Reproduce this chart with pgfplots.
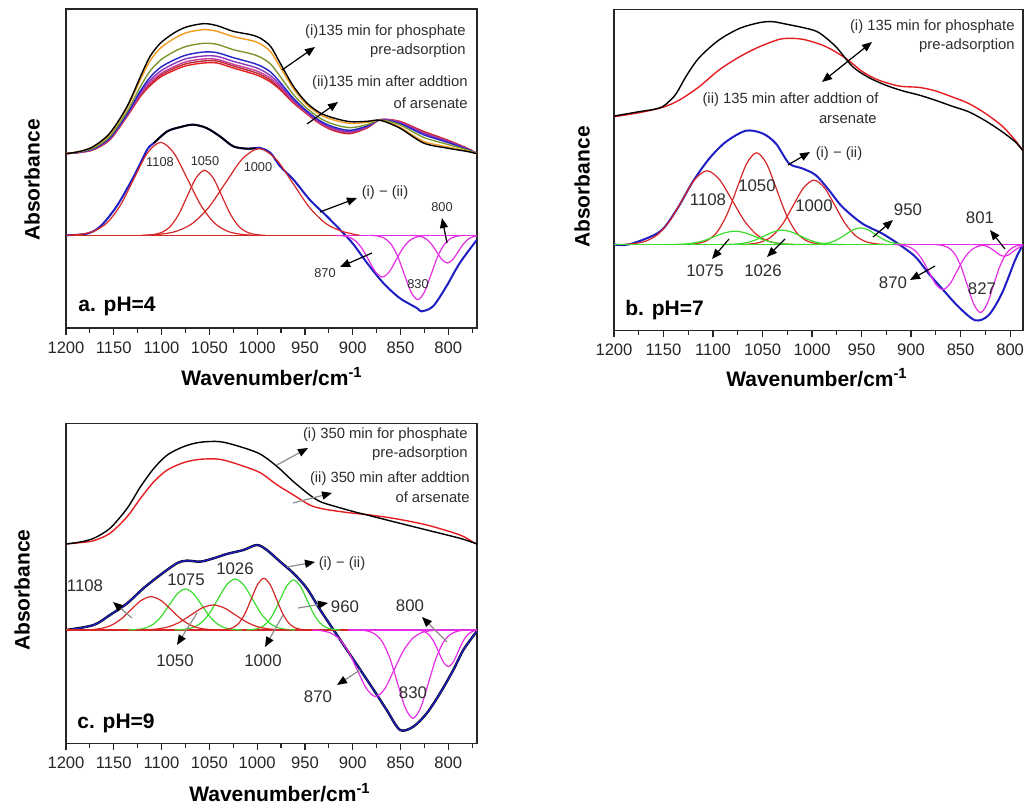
\documentclass[border=0pt]{standalone}
\usepackage{fontspec}
\setmainfont{Liberation Sans}
\usepackage{pgfplots}
\pgfplotsset{compat=1.18}
\usepackage{pgfplotstable}
\usetikzlibrary{arrows.meta}

\definecolor{cRed}{RGB}{230,30,35}
\definecolor{cBrown}{RGB}{185,45,50}
\definecolor{cMag}{RGB}{200,60,150}
\definecolor{cPurp}{RGB}{140,55,185}
\definecolor{cBlue}{RGB}{35,35,200}
\definecolor{cOlive}{RGB}{125,150,45}
\definecolor{cOrange}{RGB}{245,155,30}
\definecolor{gRed}{RGB}{215,38,38}
\definecolor{gMag}{RGB}{230,45,230}
\definecolor{gGreen}{RGB}{60,220,45}
\definecolor{dBlue}{RGB}{30,30,195}
\definecolor{txt}{RGB}{45,45,45}

\newcommand{\lbl}{\fontsize{10.5}{12}\selectfont\bfseries}
\newcommand{\ann}{\fontsize{7.4}{8}\selectfont}
\newcommand{\pkA}{\fontsize{6.4}{7}\selectfont}
\newcommand{\pkB}{\fontsize{8.4}{9}\selectfont}

\pgfplotsset{panel/.style={scale only axis, x dir=reverse,
  xtick={800,850,...,1200}, minor xtick={775,825,...,1175},
  xtick pos=left, ytick=\empty, tick align=outside,
  major tick length=3.5pt, minor tick length=2.5pt,
  every tick/.style={black!85, line width=0.6pt},
  axis line style={black!85, line width=0.7pt},
  tick label style={font=\fontsize{8.3}{9}\selectfont, text=black!85},
  /pgf/number format/assume math mode=true,
  /pgf/number format/1000 sep={},
  clip=true}}

\tikzset{arr/.style={-{Triangle[length=5pt,width=4pt]}, line width=0.6pt, black},
         garr/.style={-{Triangle[length=5pt,width=4pt,color=black]}, line width=0.6pt, black!45}}

\pgfplotstableread{
wn black orange olive blue purple magenta brown red
1200 523 523 523 523 523 523 523 523
1185 530 530 529 528 528 527 527 527
1171 545 544 540 538 537 536 536 535
1154 585 582 575 571 569 567 566 565
1136 665 661 650 643 640 638 637 635
1122 755 746 725 712 706 701 698 695
1112 815 802 771 752 743 736 731 727
1101 855 840 804 782 771 763 758 753
1087 885 868 829 804 793 784 779 773
1074 903 886 845 819 808 799 793 787
1056 913 895 854 828 816 807 801 795
1042 907 890 851 826 815 806 801 795
1025 890 874 835 811 800 791 786 780
1007 880 863 823 797 786 777 771 765
997 870 853 813 787 776 767 761 755
986 845 829 792 768 757 749 743 738
976 795 783 755 737 729 723 719 715
962 725 718 700 689 684 680 678 675
948 675 670 659 651 648 645 644 642
934 645 640 629 621 618 615 614 612
920 630 624 611 603 599 596 594 592
903 619 614 601 593 589 587 585 583
885 620 617 610 606 604 602 601 600
871 623 623 624 624 625 625 625 625
851 600 603 610 614 616 618 619 620
826 555 560 572 580 584 586 588 590
802 540 544 552 558 560 562 564 565
781 530 531 535 537 538 539 540 540
770 523 523 523 523 523 523 523 523
}\topA

\pgfplotstableread{
wn black
1200 385
1175 398
1160 405
1151 413
1144 430
1137 453
1127 505
1114 560
1094 613
1073 648
1053 665
1040 668
1027 661
1006 648
993 635
976 593
959 533
943 501
926 478
909 461
892 448
876 433
859 415
842 398
825 371
808 338
795 308
787 281
}\topBblack

\pgfplotstableread{
wn red
1200 383
1175 395
1151 411
1134 433
1114 473
1094 523
1073 563
1053 593
1033 615
1020 618
1006 613
986 593
966 558
949 518
933 493
912 475
892 471
876 461
859 443
842 423
825 393
808 355
795 313
787 281
}\topBred

\pgfplotstableread{
wn black red
1200 258 258
1185 264 262
1171 275 268
1154 305 290
1136 365 340
1122 430 395
1108 485 445
1094 525 480
1077 550 502
1060 563 512
1039 565 512
1018 550 495
997 528 472
979 490 435
962 445 405
945 405 375
934 385 365
920 372 358
899 355 350
885 345 346
857.5 325 335
822.6 300 315
787.8 275 285
773.9 262 263
770 258 258
}\topC

\begin{document}
\begin{tikzpicture}
\path[use as bounding box] (0,0) rectangle (512.5pt,-404pt);

%================ panel a
\begin{axis}[panel, at={(33pt,-164pt)}, anchor=south west,
  width=205.5pt, height=159.5pt, xmin=770, xmax=1200, ymin=-278, ymax=679]
\addplot[smooth, cRed, line width=0.7pt] table[x=wn, y expr=\thisrow{red}-278] {\topA};
\addplot[smooth, cBrown, line width=0.7pt] table[x=wn, y expr=\thisrow{brown}-278] {\topA};
\addplot[smooth, cMag, line width=0.7pt] table[x=wn, y expr=\thisrow{magenta}-278] {\topA};
\addplot[smooth, cPurp, line width=0.7pt] table[x=wn, y expr=\thisrow{purple}-278] {\topA};
\addplot[smooth, cBlue, line width=0.7pt] table[x=wn, y expr=\thisrow{blue}-278] {\topA};
\addplot[smooth, cOlive, line width=0.7pt] table[x=wn, y expr=\thisrow{olive}-278] {\topA};
\addplot[smooth, cOrange, line width=0.7pt] table[x=wn, y expr=\thisrow{orange}-278] {\topA};
\addplot[smooth, black, line width=0.7pt] table[x=wn, y expr=\thisrow{black}-278] {\topA};
% difference (i)-(ii)
\addplot[smooth, dBlue, line width=1pt] coordinates {(1200,0) (1178,5) (1164,27) (1147,87) (1129,177) (1115,257) (1108,277) (1094,312) (1080,325) (1067,332) (1053,322) (1039,297) (1025,267) (1011,260) (997,262) (986,247) (976,207) (962,167) (945,107) (927,57) (910,7) (899,-28) (885,-83) (868,-143) (851,-188) (833,-218) (828,-228) (816,-213) (802,-153) (788,-83) (770,-13)};
\addplot[smooth, black, line width=0.9pt] coordinates {(1108,277) (1094,312) (1080,325) (1067,332) (1053,322) (1039,297) (1025,267) (1011,260) (1002,261)};
% baselines
\addplot[gRed, line width=0.6pt] coordinates {(1200,0) (908,0)};
\addplot[gMag, line width=0.6pt] coordinates {(908,0) (770,0)};
% red components
\addplot[smooth, gRed, line width=0.6pt] coordinates {(1003,0) (1017,3.1) (1031,12.3) (1045,37.7) (1059,90.7) (1073,169.4) (1087,246.1) (1101,279) (1115,246.1) (1129,169.4) (1143,90.7) (1157,37.7) (1171,12.3) (1185,3.1) (1199,0)};
\addplot[smooth, gRed, line width=0.6pt] coordinates {(992,0) (1001,2.1) (1010,8.6) (1019,26.3) (1028,63.4) (1037,118.4) (1046,172) (1055,195) (1064,172) (1073,118.4) (1082,63.4) (1091,26.3) (1100,8.6) (1109,2.1) (1118,0)};
\addplot[smooth, gRed, line width=0.6pt] coordinates {(893,0) (910.5,11.4) (928,35.1) (945.5,84.5) (963,157.8) (980.5,229.3) (998,260) (1015.5,229.3) (1033,157.8) (1050.5,84.5) (1068,35.1) (1085.5,11.4) (1103,2.9) (1120.5,0)};
% magenta components
\addplot[smooth, gMag, line width=0.6pt] coordinates {(820,0) (827,-1.4) (834,-5.5) (841,-16.9) (848,-40.6) (855,-75.9) (862,-110.3) (869,-125) (876,-110.3) (883,-75.9) (890,-40.6) (897,-16.9) (904,-5.5) (911,-1.4) (918,0)};
\addplot[smooth, gMag, line width=0.6pt] coordinates {(783,0) (790,-2.1) (797,-8.5) (804,-26.1) (811,-62.7) (818,-117.2) (825,-170.2) (832,-193) (839,-170.2) (846,-117.2) (853,-62.7) (860,-26.1) (867,-8.5) (874,-2.1) (881,0)};
\addplot[smooth, gMag, line width=0.6pt] coordinates {(762.5,0) (768,-0.9) (773.5,-3.7) (779,-11.2) (784.5,-27) (790,-50.4) (795.5,-73.2) (801,-83) (806.5,-73.2) (812,-50.4) (817.5,-27) (823,-11.2) (828.5,-3.7) (834,-0.9) (839.5,0)};
\end{axis}

%================ panel b
\begin{axis}[panel, at={(307pt,-165.15pt)}, anchor=south west,
  width=204.5pt, height=160.5pt, xmin=787, xmax=1200, ymin=-257, ymax=705]
\addplot[smooth, cRed, line width=0.7pt] table[x=wn, y=red] {\topBred};
\addplot[smooth, black, line width=0.7pt] table[x=wn, y=black] {\topBblack};
\addplot[smooth, dBlue, line width=1pt] coordinates {(1200,0) (1184,1) (1154,38) (1137,103) (1120.5,188) (1103.7,258) (1086.9,308) (1066.8,341) (1050,333) (1036.6,303) (1023.2,243) (1009.7,228) (996.3,208) (982.9,163) (969.5,113) (949.3,63) (929.2,33) (912.4,1) (895.6,-37) (882.2,-87) (868.8,-132) (852,-187) (835.2,-227) (821.8,-212) (808.4,-147) (795,-47) (788.3,-7) (787,0)};
\addplot[gRed, line width=0.6pt] coordinates {(1200,0) (910,0)};
\addplot[smooth, gRed, line width=0.6pt] coordinates {(1018.5,0) (1031,2.4) (1043.5,9.7) (1056,29.8) (1068.5,71.8) (1081,134.1) (1093.5,194.9) (1106,221) (1118.5,194.9) (1131,134.1) (1143.5,71.8) (1156,29.8) (1168.5,9.7) (1181,2.4) (1193.5,0)};
\addplot[smooth, gRed, line width=0.6pt] coordinates {(986,0) (996,3) (1006,12.1) (1016,37.1) (1026,89.4) (1036,166.9) (1046,242.6) (1056,275) (1066,242.6) (1076,166.9) (1086,89.4) (1096,37.1) (1106,12.1) (1116,3) (1126,0)};
\addplot[smooth, gRed, line width=0.6pt] coordinates {(924.5,0) (935,2.1) (945.5,8.5) (956,26.1) (966.5,62.7) (977,117.2) (987.5,170.2) (998,193) (1008.5,170.2) (1019,117.2) (1029.5,62.7) (1040,26.1) (1050.5,8.5) (1061,2.1) (1071.5,0)};
\addplot[gGreen, line width=0.8pt] coordinates {(1200,0) (910,0)};
\addplot[smooth, gGreen, line width=0.6pt] coordinates {(1008,0) (1018,0.4) (1028,1.8) (1038,5.4) (1048,13) (1058,24.3) (1068,35.3) (1078,40) (1088,35.3) (1098,24.3) (1108,13) (1118,5.4) (1128,1.8) (1138,0.4) (1148,0)};
\addplot[smooth, gGreen, line width=0.6pt] coordinates {(967,0) (976,0.5) (985,1.9) (994,5.8) (1003,14) (1012,26.1) (1021,37.9) (1030,43) (1039,37.9) (1048,26.1) (1057,14) (1066,5.8) (1075,1.9) (1084,0.5) (1093,0)};
\addplot[smooth, gGreen, line width=0.6pt] coordinates {(898.5,0) (906,0.6) (913.5,2.2) (921,6.8) (928.5,16.3) (936,30.4) (943.5,44.1) (951,50) (958.5,44.1) (966,30.4) (973.5,16.3) (981,6.8) (988.5,2.2) (996,0.6) (1003.5,0)};
\addplot[gMag, line width=0.6pt] coordinates {(910,0) (787,0)};
\addplot[smooth, gMag, line width=0.6pt] coordinates {(819,0) (826,-1.5) (833,-5.9) (840,-18.2) (847,-43.9) (854,-81.9) (861,-119.1) (868,-135) (875,-119.1) (882,-81.9) (889,-43.9) (896,-18.2) (903,-5.9) (910,-1.5) (917,0)};
\addplot[smooth, gMag, line width=0.6pt] coordinates {(784.5,0) (791,-2.2) (797.5,-9) (804,-27.5) (810.5,-66.3) (817,-123.8) (823.5,-179.9) (830,-204) (836.5,-179.9) (843,-123.8) (849.5,-66.3) (856,-27.5) (862.5,-9) (869,-2.2) (875.5,0)};
\addplot[smooth, gMag, line width=0.6pt] coordinates {(774.5,0) (779,-0.4) (783.5,-1.5) (788,-4.7) (792.5,-11.4) (797,-21.2) (801.5,-30.9) (806,-35) (810.5,-30.9) (815,-21.2) (819.5,-11.4) (824,-4.7) (828.5,-1.5) (833,-0.4) (837.5,0)};
\end{axis}

%================ panel c
\begin{axis}[panel, at={(33pt,-371.65pt)}, anchor=south west,
  width=205.5pt, height=160pt, xmin=770, xmax=1200, ymin=-340, ymax=620]
\addplot[smooth, cRed, line width=0.7pt] table[x=wn, y=red] {\topC};
\addplot[smooth, black, line width=0.7pt] table[x=wn, y=black] {\topC};
\addplot[smooth, black, line width=1.2pt] coordinates {(1200,0) (1199,0) (1171,15) (1154,45) (1136,80) (1119,125) (1101.4,165) (1084,200) (1073.5,208) (1059.6,205) (1045.6,215) (1031.7,228) (1014.3,240) (1000.3,255) (989.9,240) (976,205) (962,170) (948,125) (934,60) (920,0) (906,-60) (892,-120) (878,-180) (864.5,-240) (850.5,-300) (836.6,-290) (822.6,-250) (808.7,-190) (794.8,-120) (784.3,-60) (770.4,-5)};
\addplot[smooth, dBlue, line width=0.7pt] coordinates {(1200,0) (1199,0) (1171,15) (1154,45) (1136,80) (1119,125) (1101.4,165) (1084,200) (1073.5,208) (1059.6,205) (1045.6,215) (1031.7,228) (1014.3,240) (1000.3,255) (989.9,240) (976,205) (962,170) (948,125) (934,60) (920,0) (906,-60) (892,-120) (878,-180) (864.5,-240) (850.5,-300) (836.6,-290) (822.6,-250) (808.7,-190) (794.8,-120) (784.3,-60) (770.4,-5)};
\addplot[gRed, line width=0.6pt] coordinates {(1200,0) (905,0)};
\addplot[gMag, line width=0.6pt] coordinates {(905,0) (770,0)};
\addplot[smooth, gGreen, line width=0.6pt] coordinates {(1015.5,0) (1024,1.4) (1032.5,5.4) (1041,16.6) (1049.5,40) (1058,74.7) (1066.5,108.5) (1075,123) (1083.5,108.5) (1092,74.7) (1100.5,40) (1109,16.6) (1117.5,5.4) (1126,1.4) (1134.5,0)};
\addplot[smooth, gGreen, line width=0.6pt] coordinates {(960,0) (969,1.7) (978,6.7) (987,20.7) (996,49.7) (1005,92.9) (1014,134.9) (1023,153) (1032,134.9) (1041,92.9) (1050,49.7) (1059,20.7) (1068,6.7) (1077,1.7) (1086,0)};
\addplot[smooth, gGreen, line width=0.6pt] coordinates {(913,0) (920,1.7) (927,6.6) (934,20.3) (941,48.8) (948,91.1) (955,132.3) (962,150) (969,132.3) (976,91.1) (983,48.8) (990,20.3) (997,6.6) (1004,1.7) (1011,0)};
\addplot[smooth, gRed, line width=0.6pt] coordinates {(1037.5,0) (1048,1.1) (1058.5,4.4) (1069,13.5) (1079.5,32.5) (1090,60.7) (1100.5,88.2) (1111,100) (1121.5,88.2) (1132,60.7) (1142.5,32.5) (1153,13.5) (1163.5,4.4) (1174,1.1) (1184.5,0)};
\addplot[smooth, gRed, line width=0.6pt] coordinates {(965.5,0) (977,0.8) (988.5,3.3) (1000,10.1) (1011.5,24.4) (1023,45.5) (1034.5,66.2) (1046,75) (1057.5,66.2) (1069,45.5) (1080.5,24.4) (1092,10.1) (1103.5,3.3) (1115,0.8) (1126.5,0)};
\addplot[smooth, gRed, line width=0.6pt] coordinates {(947.5,0) (954,1.7) (960.5,6.8) (967,20.9) (973.5,50.4) (980,94.1) (986.5,136.7) (993,155) (999.5,136.7) (1006,94.1) (1012.5,50.4) (1019,20.9) (1025.5,6.8) (1032,1.7) (1038.5,0)};
\addplot[smooth, gMag, line width=0.6pt] coordinates {(809.5,0) (819,-2.2) (828.5,-8.8) (838,-27) (847.5,-65) (857,-121.4) (866.5,-176.4) (876,-200) (885.5,-176.4) (895,-121.4) (904.5,-65) (914,-27) (923.5,-8.8) (933,-2.2) (942.5,0)};
\addplot[smooth, gMag, line width=0.6pt] coordinates {(781,0) (789,-2.9) (797,-11.7) (805,-35.8) (813,-86.1) (821,-160.9) (829,-233.7) (837,-265) (845,-233.7) (853,-160.9) (861,-86.1) (869,-35.8) (877,-11.7) (885,-2.9) (893,0)};
\addplot[smooth, gMag, line width=0.6pt] coordinates {(765,0) (770,-1.2) (775,-4.8) (780,-14.9) (785,-35.8) (790,-66.8) (795,-97) (800,-110) (805,-97) (810,-66.8) (815,-35.8) (820,-14.9) (825,-4.8) (830,-1.2) (835,0)};
\end{axis}

%================ annotations (pixel coordinates, y downwards)
\begin{scope}[x=0.5pt, y=-0.5pt, every node/.style={inner sep=0pt, text=txt}]
% panel a
\node[font=\lbl, rotate=90, text=black] at (32,180) {Absorbance};
\node[font=\lbl, text=black] at (272,377) {Wavenumber/cm\textsuperscript{-1}};
\node[font=\lbl, text=black, anchor=west] at (78,306) {a. pH=4};
\node[font=\ann, anchor=east] at (466,32) {(i)135 min for phosphate};
\node[font=\ann, anchor=east] at (466,51) {pre-adsorption};
\node[font=\ann, anchor=east] at (468,83) {(ii)135 min after addtion};
\node[font=\ann, anchor=east] at (468,103) {of arsenate};
\draw[arr] (282,70) -- (315,47);
\draw[arr] (307,124) -- (338,102);
\node[font=\pkA] at (160,162) {1108};
\node[font=\pkA] at (205,161) {1050};
\node[font=\pkA] at (258,167) {1000};
\node[font=\ann] at (385,193) {(i) − (ii)};
\draw[arr] (320,212) -- (357,198);
\node[font=\pkA] at (442,207) {800};
\draw[arr] (447,243) -- (442,218);
\node[font=\pkA] at (325,273) {870};
\draw[arr] (372,253) -- (340,267);
\node[font=\pkA] at (418,284) {830};
% panel b
\node[font=\lbl, rotate=90, text=black] at (582,187) {Absorbance};
\node[font=\lbl, text=black] at (817,378) {Wavenumber/cm\textsuperscript{-1}};
\node[font=\lbl, text=black, anchor=west] at (625,310) {b. pH=7};
\node[font=\ann, anchor=east] at (1015,27) {(i) 135 min for phosphate};
\node[font=\ann, anchor=east] at (1015,46) {pre-adsorption};
\node[font=\ann, anchor=east] at (879,100) {(ii) 135 min after addtion of};
\node[font=\ann, anchor=east] at (877,119) {arsenate};
\draw[{Triangle[length=5pt,width=4pt]}-{Triangle[length=5pt,width=4pt]}, line width=0.6pt] (822,82) -- (872,42);
\node[font=\ann] at (839,154) {(i) − (ii)};
\draw[arr] (788,165) -- (810,152);
\node[font=\pkB] at (708,200) {1108};
\node[font=\pkB] at (757,186) {1050};
\node[font=\pkB] at (814,206) {1000};
\node[font=\pkB] at (908,210) {950};
\draw[arr] (873,237) -- (893,220);
\node[font=\pkB] at (980,218) {801};
\draw[arr] (1005,249) -- (990,230);
\node[font=\pkB] at (705,271) {1075};
\draw[arr] (729,239) -- (712,259);
\node[font=\pkB] at (763,271) {1026};
\draw[arr] (785,239) -- (767,257);
\node[font=\pkB] at (893,283) {870};
\draw[arr] (935,266) -- (910,280);
\node[font=\pkB] at (982,289) {827};
% panel c
\node[font=\lbl, rotate=90, text=black] at (22,590) {Absorbance};
\node[font=\lbl, text=black] at (280,793) {Wavenumber/cm\textsuperscript{-1}};
\node[font=\lbl, text=black, anchor=west] at (77,723) {c. pH=9};
\node[font=\ann, anchor=east] at (468,435) {(i) 350 min for phosphate};
\node[font=\ann, anchor=east] at (468,454) {pre-adsorption};
\node[font=\ann, anchor=east] at (470,479) {(ii) 350 min after addtion};
\node[font=\ann, anchor=east] at (470,497) {of arsenate};
\draw[garr] (277,465) -- (308,448);
\draw[garr] (293,503) -- (332,493);
\node[font=\ann] at (342,564) {(i) − (ii)};
\draw[garr] (287,567) -- (315,562);
\node[font=\pkB] at (85,586) {1108};
\draw[garr] (132,618) -- (113,602);
\node[font=\pkB] at (186,580) {1075};
\node[font=\pkB] at (235,569) {1026};
\node[font=\pkB] at (345,607) {960};
\draw[garr] (298,608) -- (328,603);
\node[font=\pkB] at (175,661) {1050};
\draw[garr] (197,613) -- (177,645);
\node[font=\pkB] at (263,661) {1000};
\draw[garr] (283,615) -- (265,647);
\node[font=\pkB] at (410,606) {800};
\draw[garr] (447,642) -- (422,617);
\node[font=\pkB] at (318,697) {870};
\draw[garr] (360,670) -- (337,685);
\node[font=\pkB] at (413,693) {830};
\end{scope}
\end{tikzpicture}
\end{document}
